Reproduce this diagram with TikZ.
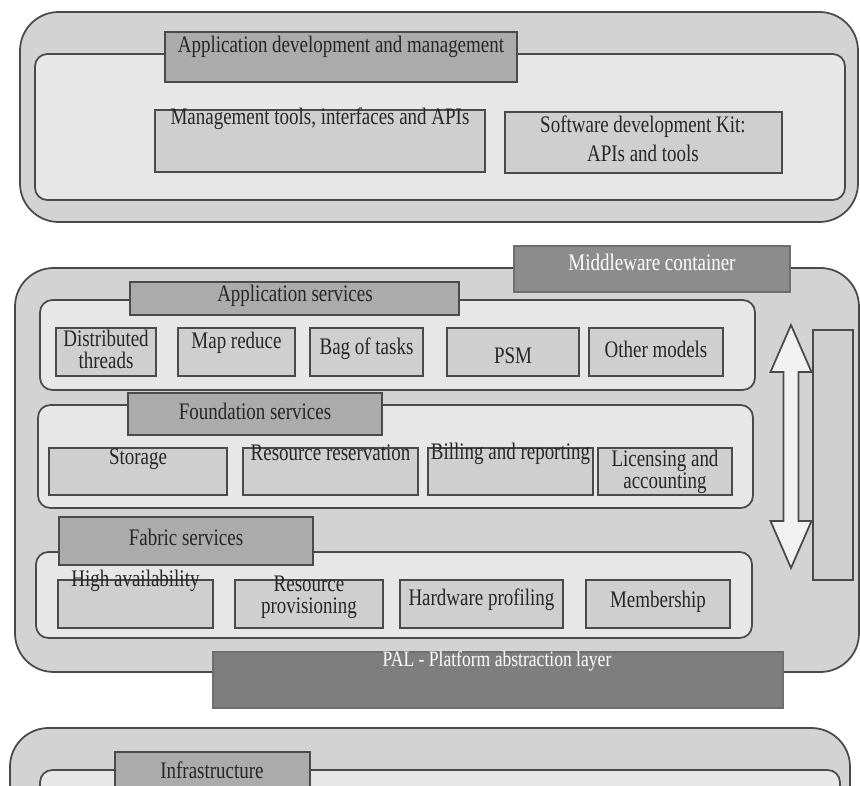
\documentclass[tikz,border=0pt]{standalone}
\usepackage{fontspec}
\setmainfont{Liberation Serif}[FakeStretch=0.8]
\definecolor{layerFill}{HTML}{D3D3D3}
\definecolor{panelFill}{HTML}{E7E7E7}
\definecolor{cellFill}{HTML}{CFCFCF}
\definecolor{headFill}{HTML}{ABABAB}
\definecolor{tagFill}{HTML}{8C8C8C}
\definecolor{palFill}{HTML}{7E7E7E}
\definecolor{edgeCol}{HTML}{4A4A4A}
\definecolor{inkCol}{HTML}{262626}

\begin{document}
\begin{tikzpicture}[
    x=0.02cm, y=-0.02cm,
    layer/.style={draw=edgeCol, line width=1pt, fill=layerFill, rounded corners=22pt},
    panel/.style={draw=edgeCol, line width=1pt, fill=panelFill, rounded corners=7pt},
    cell/.style={draw=edgeCol, line width=0.9pt, fill=cellFill},
    head/.style={draw=edgeCol, line width=0.9pt, fill=headFill},
    tag/.style={draw=edgeCol!80, line width=0.9pt, fill=tagFill},
    lbl/.style={font=\fontsize{13.5}{12.5}\selectfont, text=inkCol, inner sep=0pt, align=center},
]
\useasboundingbox (0,0) rectangle (860,786);
\clip (0,0) rectangle (860,786);

% Application development and management
\draw[layer] (20,12) rectangle (858,222);
\draw[panel] (35,54) rectangle (845,200);
\draw[head] (165,32) rectangle (517,82);
\node[lbl] (appdev) at (341,47) {Application development and management};
\draw[cell] (155,110) rectangle (485,172);
\node[lbl] (mgmt) at (320,119) {Management tools, interfaces and APIs};
\draw[cell] (505,112) rectangle (782,173);
\node[lbl] (sdk) at (643,139) {Software development Kit:\\[4pt]APIs and tools};

% Middleware layer
\draw[layer] (15,268) rectangle (859,672);
\draw[tag] (514,246) rectangle (790,292);
\node[lbl, text=white] (mwc) at (652,262) {Middleware container};

% Application services
\draw[panel] (40,300) rectangle (755,390);
\draw[head] (130,282) rectangle (459,315);
\node[lbl] (appsvc) at (295,296) {Application services};
\foreach \xa/\xb/\ty/\nm/\txt in {
    56/156/349/dthreads/{Distributed\\threads},
    178/295/343/mapred/{Map reduce},
    310/423/349/bagtasks/{Bag of tasks},
    447/579/356/psm/{PSM},
    589/723/349/othermod/{Other models}} {
    \draw[cell] (\xa,328) rectangle (\xb,376);
    \node[lbl] (\nm) at ({(\xa+\xb)/2},\ty) {\txt};
}

% Foundation services
\draw[panel] (38,405) rectangle (753,508);
\draw[head] (128,393) rectangle (382,435);
\node[lbl] (fndsvc) at (255,411) {Foundation services};
\foreach \xa/\xb/\ty/\nm/\txt in {
    49/227/459/storage/{Storage},
    243/418/453/resres/{Resource reservation},
    428/593/454/billing/{Billing and reporting},
    598/732/472/licensing/{Licensing and\\accounting}} {
    \draw[cell] (\xa,448) rectangle (\xb,495);
    \node[lbl] (\nm) at ({(\xa+\xb)/2},\ty) {\txt};
}

% Fabric services
\draw[panel] (36,552) rectangle (752,638);
\draw[head] (59,517) rectangle (313,565);
\node[lbl] (fabsvc) at (186,537) {Fabric services};
\foreach \xa/\xb/\ty/\nm/\txt in {
    58/213/581/highav/{High availability},
    235/383/597/resprov/{Resource\\provisioning},
    400/563/600/hwprof/{Hardware profiling},
    586/730/602/member/{Membership}} {
    \draw[cell] (\xa,580) rectangle (\xb,628);
    \node[lbl] (\nm) at ({(\xa+\xb)/2},\ty) {\txt};
}

% Double arrow and side bar
\draw[draw=edgeCol, line width=1pt, fill=panelFill!60!white]
    (791,325) -- (811.5,372) -- (798.5,372) -- (798.5,521) -- (811.5,521)
    -- (791,568) -- (770.5,521) -- (783.5,521) -- (783.5,372) -- (770.5,372) -- cycle;
\draw[draw=edgeCol, line width=0.9pt, fill=cellFill] (813,330) rectangle (853,580);

% PAL bar
\draw[tag, fill=palFill] (213,652) rectangle (783,708);
\node[lbl, text=white, font=\fontsize{12.5}{12}\selectfont] (pal) at (497,661)
    {PAL - Platform abstraction layer};

% Infrastructure layer
\draw[layer] (10,728) rectangle (850,900);
\draw[panel] (40,770) rectangle (840,900);
\draw[head] (115,752) rectangle (310,800);
\node[lbl] (infra) at (212,770) {Infrastructure};

\end{tikzpicture}
\end{document}
